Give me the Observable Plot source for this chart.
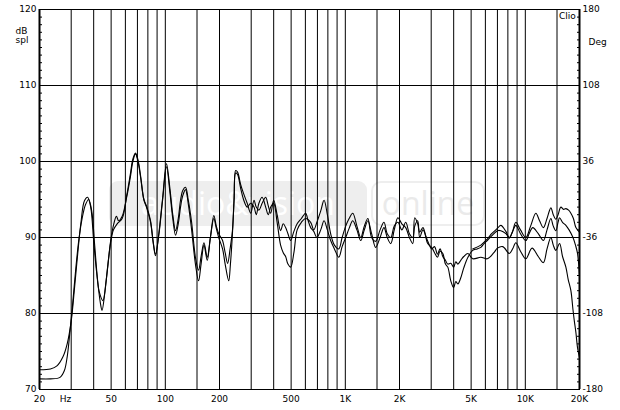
<!DOCTYPE html>
<html><head><meta charset="utf-8">
<script src="https://cdn.jsdelivr.net/npm/d3@7"></script>
<script src="https://cdn.jsdelivr.net/npm/@observablehq/plot@0.6"></script>
<style>body{margin:0;background:#fff}</style>
</head><body><div id="chart"></div>
<script>
// ---- data ----
const freqA = [20,23,25,27,28.5,30,31.2,32.5,34,35.5,
  37,38.5,40,41.5,43,45,47,49.6,51.5,54,
  57.6,61,64,66,68.3,70.5,73,76,79,82.8,
  85.5,88.2,92,96.7,101.5,106,110,114,118,121.5,
  125,129.5,134,140,147,153,158,164,171,178,
  186,192,198,208,215,222,229,236,241,246,
  252,262,272,285,298,311,320,331,345,361,
  373,385,400,418,437,452,466,480,497,518,
  540,570,602,620,642,668,695,730,762,795,
  829,870,920,960,1005,1050,1100,1160,1218,1275,
  1335,1400,1475,1560,1640,1710,1788,1870,1960,2060,
  2166,2270,2370,2430,2525,2590,2700,2870,3020,3130,
  3250,3360,3480,3600,3710,3854,4000,4110,4220,4380,
  4550,4800,5100,5400,5660,5900,6150,6500,7000,7310,
  7800,8150,8500,8858,9400,10068,10500,11000,11800,12600,
  13200,13866,14300,14783,15200,15500,16100,16802,17500,18400,
  19000,19500,20000];
const splA = [72.6,72.7,73.1,74.3,76.0,79.0,83.0,87.5,92.0,94.8,
  95.3,94.0,89.5,85.5,82.8,81.7,84.5,89.2,91.0,91.8,
  92.5,95.5,98.4,100.3,101.1,100.2,98.0,95.0,94.0,92.2,
  89.5,87.6,90.5,95.3,99.7,96.5,93.0,90.9,92.5,94.9,
  96.2,96.6,95.0,92.0,87.4,85.7,87.5,89.3,87.4,90.0,
  92.9,91.5,90.5,89.6,88.0,86.6,88.5,90.9,95.0,98.8,
  98.6,97.0,95.8,94.5,93.2,94.9,94.0,93.6,94.5,95.3,
  94.2,93.2,94.9,93.0,90.9,91.8,91.3,90.5,89.6,90.8,
  91.8,92.5,93.2,92.3,91.3,90.8,90.0,91.0,92.2,91.0,
  89.6,88.5,87.4,88.8,90.0,91.2,92.2,91.0,89.6,91.0,
  92.2,90.5,88.7,90.0,91.3,90.0,89.2,91.0,92.6,91.8,
  91.3,90.0,89.2,92.6,91.8,90.7,91.3,89.2,88.7,88.0,
  87.4,88.2,87.9,86.5,86.1,84.3,83.4,84.2,83.9,84.7,
  86.0,87.4,88.3,88.5,88.7,89.2,89.6,90.2,90.9,90.9,
  90.5,90.0,90.8,91.6,90.5,89.6,90.5,91.3,90.5,89.6,
  91.0,92.5,91.5,90.9,92.0,92.6,92.0,91.6,91.0,90.0,
  89.0,87.9,85.0];

const freqB = [20,23,26,27.5,28.5,29.5,30.5,31.7,33,34.5,
  36,37.5,39,40.5,42,43.5,44.5,46,48,50,
  52,53.5,55,57.6,61,64,66,68.3,70.5,73,
  76,79,82.8,85.5,88.2,92,96.7,101.5,106,110,
  114,118,121.5,125,129.5,134,140,147,153,158,
  164,171,178,186,192,198,208,215,225,230,
  236,241,246,252,262,272,285,298,311,320,
  331,345,361,373,385,400,418,437,452,466,
  480,497,518,540,570,602,642,668,695,730,
  762,795,829,870,920,960,1005,1050,1100,1160,
  1218,1275,1335,1400,1475,1560,1640,1710,1788,1870,
  1960,2060,2166,2270,2370,2430,2525,2590,2700,2870,
  3020,3130,3250,3360,3480,3600,3710,3854,4000,4110,
  4220,4380,4550,4800,5100,5660,6150,6690,7000,7500,
  8150,8500,8858,9400,10068,10900,11800,12600,13200,13866,
  14300,14783,15500,16100,16802,17300,17913,18400,18700,19100,
  19500,20000];
const splB = [71.4,71.4,71.6,72.5,74.3,77.5,81.0,85.5,89.5,92.5,
  94.3,95.0,93.5,89.0,84.5,81.5,80.4,82.5,86.5,90.0,
  92.0,92.8,92.2,92.8,95.3,98.0,100.0,101.0,100.0,97.8,
  95.0,93.8,92.0,89.5,87.8,90.3,95.0,99.3,96.0,92.5,
  90.3,91.8,94.0,95.5,96.3,94.5,91.0,86.5,84.3,86.5,
  89.0,87.0,90.0,92.5,91.2,90.0,88.5,86.5,84.3,86.5,
  90.5,95.0,98.5,98.3,96.5,95.0,94.0,94.5,94.0,93.0,
  94.5,95.3,94.0,93.0,94.0,94.5,92.0,89.0,88.0,87.5,
  86.5,86.1,88.0,91.0,92.0,92.5,92.0,91.0,92.0,93.5,
  94.9,93.0,90.5,89.0,88.5,90.0,91.5,92.5,93.2,91.5,
  90.0,91.5,92.5,90.0,89.5,91.0,92.0,90.5,90.0,91.5,
  92.0,91.0,92.0,90.5,90.0,91.5,92.2,90.0,91.0,89.5,
  88.5,88.8,87.8,88.5,87.5,87.0,86.5,86.6,86.1,86.8,
  86.5,87.0,87.5,87.9,87.2,87.4,87.2,88.0,88.6,88.8,
  87.9,88.5,89.3,88.2,87.2,88.6,87.5,86.7,88.5,90.0,
  89.0,88.3,89.2,87.5,86.1,84.5,83.0,80.5,79.1,77.5,
  75.5,74.2];

const freqC = [5100,5660,6150,6500,7000,7310,7800,8150,8500,8858,
  9400,10068,10700,11443,12000,12600,13200,13866,14300,14783,
  15200,15760,16300,16802,17400,17913,18500,19097,20000];
const splC = [88.5,89.0,89.8,90.5,91.2,91.6,90.8,89.9,90.8,92.0,
  91.0,90.0,91.5,93.2,92.2,91.3,92.5,93.9,93.0,92.4,
  93.0,94.0,93.7,93.8,93.6,93.2,92.5,91.3,90.7];

const gridFreqs = [30,40,50,60,70,80,90,100,150,200,300,400,500,600,700,800,900,
  1000,1500,2000,3000,4000,5000,6000,7000,8000,9000,10000,15000];
const gridDb = [80,90,100,110];
const dbTicks = [70,80,90,100,110,120];
const degTicks = [-180,-108,-36,36,108,180];
const freqTicks = [20,50,100,200,500,1000,2000,5000,10000,20000];
const freqLabels = ["20","50","100","200","500","1K","2K","5K","10K","20K"];
const minorDb = d3.range(70,121,1);

const rows = (f, v, id) => f.map((x, i) => ({f: x, db: v[i], id}));
const curves = [...rows(freqA, splA, "A"), ...rows(freqB, splB, "B"), ...rows(freqC, splC, "C")];
const xLabels = freqTicks.map((f, i) => ({f, label: freqLabels[i]}));

const chart = Plot.plot({
  width: 620, height: 410,
  marginLeft: 39, marginRight: 41, marginTop: 9, marginBottom: 21,
  style: {fontFamily: "DejaVu Sans", fontSize: "9px", background: "white", color: "black"},
  x: {type: "log", domain: [20, 20000], label: null, axis: null},
  y: {domain: [70, 120], label: null},
  marks: [
    Plot.ruleX(gridFreqs, {stroke: "black", strokeWidth: 1}),
    Plot.ruleY(gridDb, {stroke: "black", strokeWidth: 1}),
    Plot.frame({stroke: "black"}),
    Plot.ruleX([20, 20000], {stroke: "black", strokeWidth: 2}),
    Plot.line(curves, {x: "f", y: "db", z: "id", stroke: "black", strokeWidth: 1.1, curve: "catmull-rom", clip: true}),
    Plot.axisY(minorDb, {anchor: "left", tickSize: -3, tickFormat: () => ""}),
    Plot.axisY(minorDb, {anchor: "right", tickSize: -3, tickFormat: () => ""}),
    Plot.axisY(dbTicks, {anchor: "left", tickSize: 0, tickPadding: 3}),
    Plot.axisY(dbTicks, {anchor: "right", tickSize: 0, tickPadding: 3,
      tickFormat: d => String(degTicks[dbTicks.indexOf(d)])}),
    Plot.text(xLabels, {x: "f", text: "label", frameAnchor: "bottom", dy: 6, lineAnchor: "top", textAnchor: "middle"}),
    Plot.text(["Hz"], {text: d => d, frameAnchor: "bottom-left", dx: 26, dy: 6, lineAnchor: "top", textAnchor: "middle"}),
    Plot.text(["dB"], {text: d => d, frameAnchor: "top-left", dx: -24, dy: 22, lineAnchor: "middle", textAnchor: "start"}),
    Plot.text(["spl"], {text: d => d, frameAnchor: "top-left", dx: -24, dy: 31, lineAnchor: "middle", textAnchor: "start"}),
    Plot.text(["Clio"], {text: d => d, frameAnchor: "top-right", dx: -20.5, dy: 3, lineAnchor: "top", textAnchor: "start"}),
    Plot.text(["Deg"], {text: d => d, frameAnchor: "top-right", dx: 9, dy: 33, lineAnchor: "middle", textAnchor: "start"})
  ]
});

// faint watermark behind the grid
const svg = d3.select(chart);
const wm = svg.insert("g", ":first-child");
wm.append("rect").attr("x", 109).attr("y", 181).attr("width", 258).attr("height", 45).attr("rx", 9).attr("fill", "#eeeeee");
wm.append("text").attr("x", 238).attr("y", 215).attr("text-anchor", "middle").attr("font-family", "Open Sans").attr("font-size", 32)
  .attr("fill", "white").text("audio&vision");
wm.append("rect").attr("x", 372).attr("y", 182).attr("width", 112).attr("height", 43).attr("rx", 9)
  .attr("fill", "none").attr("stroke", "#eeeeee").attr("stroke-width", 2);
wm.append("text").attr("x", 428).attr("y", 215).attr("text-anchor", "middle").attr("font-family", "Open Sans").attr("font-size", 32)
  .attr("fill", "#eaeaea").text("online");

document.getElementById("chart").appendChild(chart);
</script>
</body></html>
